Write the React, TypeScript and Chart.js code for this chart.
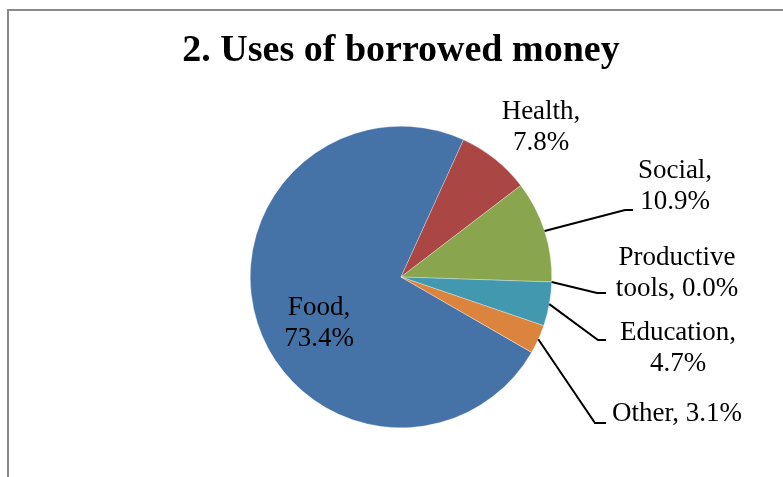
import React, { useEffect, useRef } from "react";
import { Chart, registerables } from "chart.js";

Chart.register(...registerables);

const TITLE = "2. Uses of borrowed money";
const categories = ["Food", "Health", "Social", "Productive tools", "Education", "Other"];
const values = [73.4, 7.8, 10.9, 0.0, 4.7, 3.1];
const colors = ["#4572A7", "#AA4643", "#89A54E", "#71588F", "#4198AF", "#DB843D"];

const FONT = '"Liberation Serif", "Times New Roman", serif';

// label text lines built from the data
function labelLines(i: number): string[] {
  const cat = categories[i];
  const pct = values[i].toFixed(1) + "%";
  if (cat === "Productive tools") return ["Productive", "tools, " + pct];
  if (cat === "Other") return [cat + ", " + pct];
  return [cat + ",", pct];
}

// placement of each label (center x, first line center y) and optional leader elbow
const labelPlacement = [
  { x: 319, y: 308, leader: null },
  { x: 541, y: 112, leader: null },
  { x: 675, y: 171, leader: [[625, 210], [633, 210]] },
  { x: 677, y: 258, leader: [[597, 293], [606, 293]] },
  { x: 678, y: 333, leader: [[598, 340], [606, 340]] },
  { x: 677, y: 414, leader: [[595, 423], [606, 423]] },
];

const decorPlugin = {
  id: "decor",
  afterDraw(chart: any) {
    const ctx = chart.ctx as CanvasRenderingContext2D;
    ctx.save();
    // frame
    ctx.strokeStyle = "#8a8a8a";
    ctx.lineWidth = 2;
    ctx.strokeRect(8, 10, 900, 600);
    // title
    ctx.fillStyle = "#000";
    ctx.font = `bold 38px ${FONT}`;
    ctx.textAlign = "center";
    ctx.textBaseline = "alphabetic";
    ctx.fillText(TITLE, 401, 61);

    const meta = chart.getDatasetMeta(0);
    ctx.font = `27px ${FONT}`;
    ctx.textBaseline = "middle";
    meta.data.forEach((arc: any, i: number) => {
      const p = labelPlacement[i];
      const lines = labelLines(i);
      lines.forEach((ln, k) => {
        ctx.fillText(ln, p.x, p.y + k * 31);
      });
      if (p.leader) {
        const { x, y, startAngle, endAngle, outerRadius } = arc.getProps(
          ["x", "y", "startAngle", "endAngle", "outerRadius"],
          true
        );
        const mid = (startAngle + endAngle) / 2;
        const ax = x + Math.cos(mid) * outerRadius;
        const ay = y + Math.sin(mid) * outerRadius;
        ctx.strokeStyle = "#000";
        ctx.lineWidth = 2;
        ctx.beginPath();
        ctx.moveTo(ax, ay);
        ctx.lineTo(p.leader[0][0], p.leader[0][1]);
        ctx.lineTo(p.leader[1][0], p.leader[1][1]);
        ctx.stroke();
      }
    });
    ctx.restore();
  },
};

export default function App() {
  const ref = useRef<HTMLCanvasElement>(null);
  useEffect(() => {
    if (!ref.current) return;
    const chart = new Chart(ref.current, {
      type: "pie",
      data: {
        labels: categories,
        datasets: [
          {
            data: values,
            backgroundColor: colors,
            borderColor: "rgba(255,255,255,0.6)",
            borderWidth: 0.5,
          },
        ],
      },
      options: {
        responsive: false,
        animation: false,
        rotation: 120,
        layout: { padding: { left: 250, right: 231, top: 126, bottom: 49 } },
        plugins: {
          legend: { display: false },
          tooltip: { enabled: false },
          title: { display: false },
        },
      },
      plugins: [decorPlugin],
    });
    return () => chart.destroy();
  }, []);
  return (
    <div style={{ position: "fixed", left: 0, top: 0, width: 783, height: 477, background: "#fff" }}>
      <canvas ref={ref} width={783} height={477} style={{ width: 783, height: 477, display: "block" }} />
    </div>
  );
}
